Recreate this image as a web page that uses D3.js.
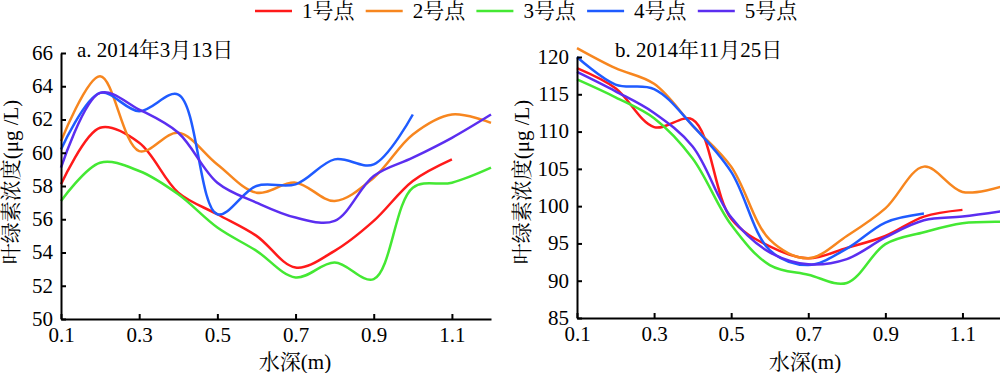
<!DOCTYPE html>
<html><head><meta charset="utf-8">
<script src="https://cdn.jsdelivr.net/npm/d3@7/dist/d3.min.js"></script>
<style>
body{margin:0;background:#fff;}
svg{display:block;}
text{font-family:"Liberation Serif","Times New Roman","Noto Serif CJK SC","Noto Sans CJK SC",serif;fill:#000;}
</style></head><body>
<svg id="c" width="1000" height="373"></svg>
<script>
const seriesNames = ["1号点","2号点","3号点","4号点","5号点"];
const colors = ["#ff1a1a","#f7861f","#44e833","#1f5bff","#5b2ef0"];
const depths = [0.1,0.2,0.3,0.4,0.5,0.6,0.7,0.8,0.9,1.0,1.1,1.2];
const xTicks = [0.1,0.3,0.5,0.7,0.9,1.1];

// Panel a: 2014-03-13
const a1 = [58.1,61.5,60.6,57.6,56.3,55.0,53.1,54.1,55.9,58.3,59.6];
const a2 = [60.7,64.6,60.1,61.2,59.3,57.6,58.2,57.1,58.5,61.1,62.3,61.8];
const a3 = [57.1,59.4,58.9,57.5,55.5,54.1,52.5,53.4,52.4,57.9,58.2,59.1];
const a4 = [60.2,63.6,62.5,63.5,56.3,58.0,58.1,59.6,59.3,62.3];
const a5 = [59.1,63.6,62.6,61.2,58.2,57.0,56.1,55.9,58.6,59.7,60.9,62.3];
const aTicks = [50,52,54,56,58,60,62,64,66];

// Panel b: 2014-11-25
const b1 = [118.5,115.8,110.6,111.6,98.3,94.6,93.0,94.4,96.0,98.6,99.5];
const b2 = [121.2,118.5,116.4,110.8,105.3,95.5,93.0,96.0,99.7,105.3,101.9,102.6];
const b3 = [117.0,114.6,111.8,106.4,97.5,92.1,90.8,89.7,94.9,96.5,97.7,97.9];
const b4 = [120.0,116.3,115.7,110.8,104.6,94.1,92.1,94.3,97.8,99.0];
const b5 = [118.0,115.4,112.5,108.0,98.5,93.8,92.2,92.9,95.8,98.1,98.6,99.3];
const bTicks = [85,90,95,100,105,110,115,120];

const svg = d3.select("#c");
const FS = 21;

function panel(cfg){
  const x = d3.scaleLinear().domain([0.1,1.2]).range([cfg.x0,cfg.x1]);
  const y = d3.scaleLinear().domain(cfg.ydom).range([cfg.y0,cfg.y1]);
  const g = svg.append("g");
  const line = d3.line().x(d=>x(d[0])).y(d=>y(d[1])).curve(d3.curveCatmullRom.alpha(0.5));
  cfg.data.forEach((s,i)=>{
    g.append("path").attr("d",line(s.map((v,j)=>[depths[j],v])))
     .attr("fill","none").attr("stroke",colors[i]).attr("stroke-width",2.5);
  });
  const ax = g.append("g").attr("transform",`translate(0,${cfg.y0})`)
    .call(d3.axisBottom(x).tickValues(xTicks).tickFormat(d3.format(".1f")).tickSizeInner(-5).tickSizeOuter(0).tickPadding(8));
  const ay = g.append("g").attr("transform",`translate(${cfg.x0},0)`)
    .call(d3.axisLeft(y).tickValues(cfg.yticks).tickSizeInner(-5).tickSizeOuter(0).tickPadding(cfg.ypad));
  [ax,ay].forEach(a=>{
    a.selectAll("path,line").attr("stroke","#000").attr("stroke-width",2);
    a.selectAll("text").attr("font-size",FS).attr("font-family",null);
  });
  ay.selectAll("text").attr("dy","0.3em");
  g.append("text").attr("x",cfg.tx).attr("y",57).attr("font-size",FS).text(cfg.title);
  g.append("text").attr("x",cfg.xlx).attr("y",369).attr("text-anchor","middle")
   .attr("font-size",FS).text("水深(m)");
  g.append("text").attr("transform",`translate(${cfg.lx},182) rotate(-90)`)
   .attr("text-anchor","middle").attr("dy","0.35em").attr("font-size",FS).text("叶绿素浓度(μg /L)");
}

panel({x0:61,x1:491,y0:319,y1:53,ydom:[50,66],yticks:aTicks,ypad:8,
  data:[a1,a2,a3,a4,a5],title:"a. 2014年3月13日",tx:77,lx:11,xlx:295});
panel({x0:577,x1:1001,y0:318,y1:57,ydom:[85,120],yticks:bTicks,ypad:8,
  data:[b1,b2,b3,b4,b5],title:"b. 2014年11月25日",tx:615,lx:522,xlx:805});

// Legend
const lg = svg.append("g");
seriesNames.forEach((n,i)=>{
  const lx = 255 + i*110.7;
  lg.append("line").attr("x1",lx).attr("x2",lx+37).attr("y1",11).attr("y2",11)
    .attr("stroke",colors[i]).attr("stroke-width",2.5);
  lg.append("text").attr("x",lx+47).attr("y",18).attr("font-size",FS).text(n);
});
</script>
</body></html>
